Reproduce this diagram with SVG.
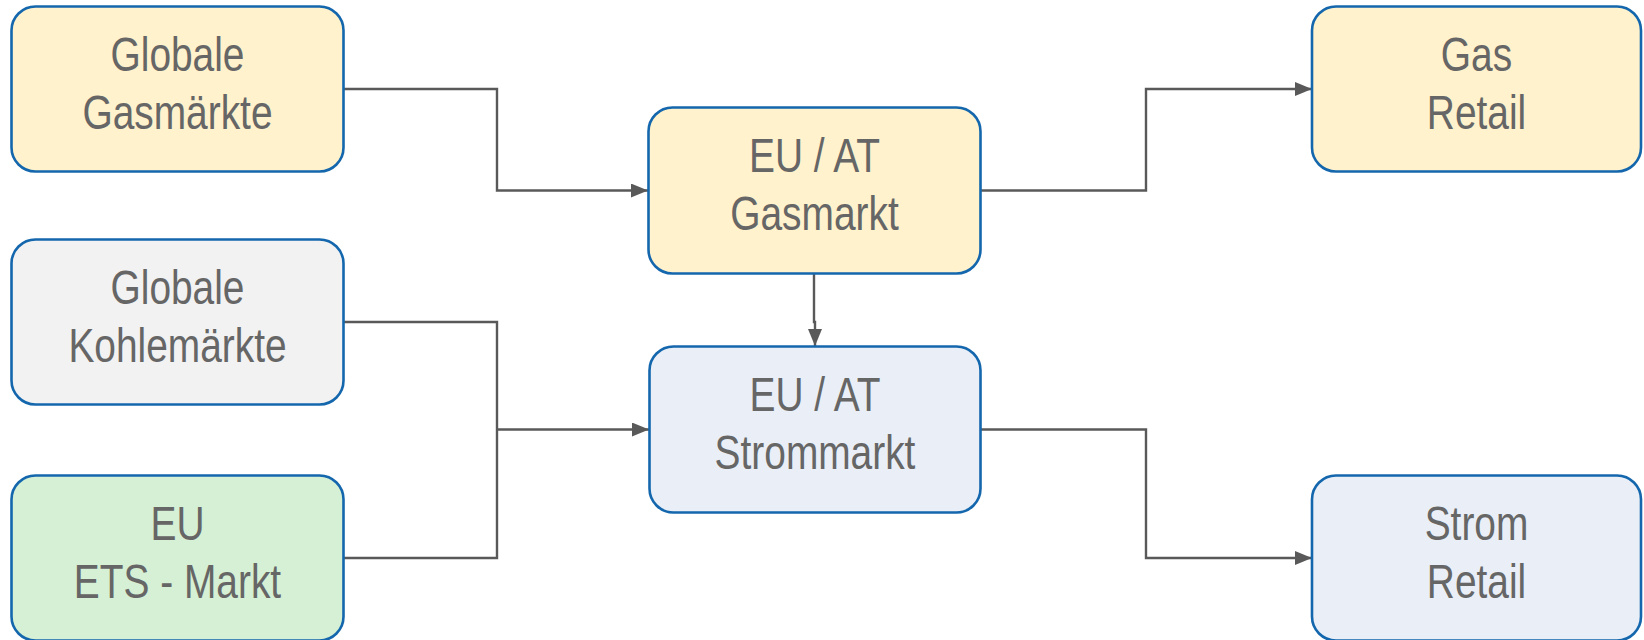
<svg xmlns="http://www.w3.org/2000/svg" width="1644" height="640" viewBox="0 0 1644 640">
<defs>
<style>
.box{stroke:#1467ad;stroke-width:2.6}
.yel{fill:#fff2cc}.gry{fill:#f2f2f2}.grn{fill:#d5f0d4}.blu{fill:#eaeff7}
.lbl{font-family:"Liberation Sans Narrow","Liberation Sans",Arial,sans-serif;font-size:48px;fill:#666666;text-anchor:middle}
.con{fill:none;stroke:#595959;stroke-width:2.4}
</style>
<marker id="arr" viewBox="0 0 17 14" refX="17" refY="7" markerWidth="17" markerHeight="14" markerUnits="userSpaceOnUse" orient="auto">
<path d="M0,0 L17,7 L0,14 Z" fill="#595959"/>
</marker>
</defs>
<g id="connectors">
<path class="con" d="M344,89 H497 V190.5 H648" marker-end="url(#arr)"/>
<path class="con" d="M814,274 V322 H815 V346" marker-end="url(#arr)"/>
<path class="con" d="M344,322 H497 V558 H344"/>
<path class="con" d="M497,429.5 H649" marker-end="url(#arr)"/>
<path class="con" d="M981,190.5 H1146 V89 H1312" marker-end="url(#arr)"/>
<path class="con" d="M981,429.5 H1146 V558 H1312" marker-end="url(#arr)"/>
</g>
<g id="n1"><rect class="box yel" x="11.5" y="6.5" width="332" height="165" rx="24"/>
<g transform="translate(177.5 0) scale(0.81 1)"><text class="lbl" x="0" y="71">Globale</text><text class="lbl" x="0" y="129">Gasmärkte</text></g></g>
<g id="n2"><rect class="box gry" x="11.5" y="239.5" width="332" height="165" rx="24"/>
<g transform="translate(177.5 0) scale(0.81 1)"><text class="lbl" x="0" y="304">Globale</text><text class="lbl" x="0" y="362">Kohlemärkte</text></g></g>
<g id="n3"><rect class="box grn" x="11.5" y="475.5" width="332" height="165" rx="24"/>
<g transform="translate(177.5 0) scale(0.81 1)"><text class="lbl" x="0" y="540">EU</text><text class="lbl" x="0" y="598">ETS - Markt</text></g></g>
<g id="n4"><rect class="box yel" x="648.5" y="107.5" width="332" height="166" rx="24"/>
<g transform="translate(814.5 0) scale(0.81 1)"><text class="lbl" x="0" y="172">EU / AT</text><text class="lbl" x="0" y="230">Gasmarkt</text></g></g>
<g id="n5"><rect class="box blu" x="649.5" y="346.5" width="331" height="166" rx="24"/>
<g transform="translate(815 0) scale(0.81 1)"><text class="lbl" x="0" y="411">EU / AT</text><text class="lbl" x="0" y="469">Strommarkt</text></g></g>
<g id="n6"><rect class="box yel" x="1312" y="6.5" width="329" height="165" rx="24"/>
<g transform="translate(1476.5 0) scale(0.81 1)"><text class="lbl" x="0" y="71">Gas</text><text class="lbl" x="0" y="129">Retail</text></g></g>
<g id="n7"><rect class="box blu" x="1312" y="475.5" width="329" height="165" rx="24"/>
<g transform="translate(1476.5 0) scale(0.81 1)"><text class="lbl" x="0" y="540">Strom</text><text class="lbl" x="0" y="598">Retail</text></g></g>
</svg>
